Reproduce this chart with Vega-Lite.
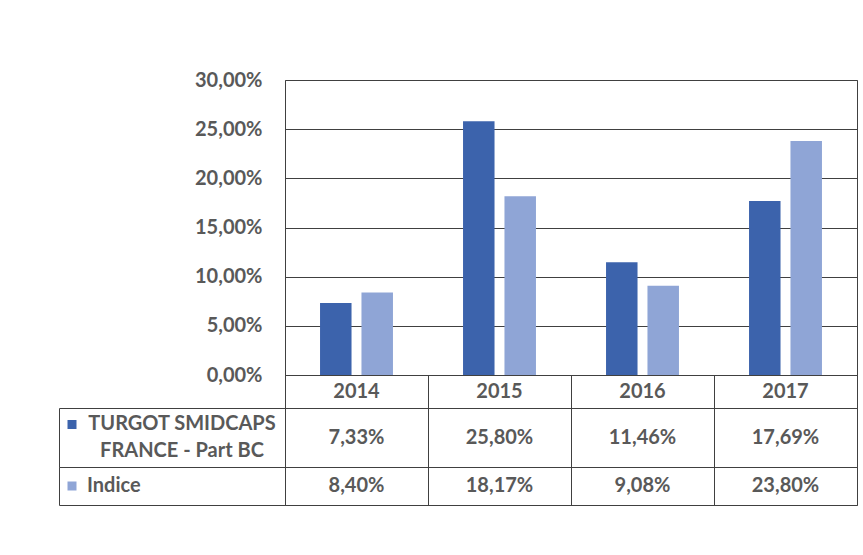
{
  "$schema": "https://vega.github.io/schema/vega-lite/v6.json",
  "background": "white",
  "padding": {"left": 58, "top": 69, "right": 4, "bottom": 4},
  "bounds": "flush",
  "align": "each",
  "spacing": 0,
  "columns": 2,
  "datasets": {
    "perf": [
      {"year": "2014", "series": "TURGOT SMIDCAPS FRANCE - Part BC", "value": 0.0733},
      {"year": "2015", "series": "TURGOT SMIDCAPS FRANCE - Part BC", "value": 0.2580},
      {"year": "2016", "series": "TURGOT SMIDCAPS FRANCE - Part BC", "value": 0.1146},
      {"year": "2017", "series": "TURGOT SMIDCAPS FRANCE - Part BC", "value": 0.1769},
      {"year": "2014", "series": "Indice", "value": 0.0840},
      {"year": "2015", "series": "Indice", "value": 0.1817},
      {"year": "2016", "series": "Indice", "value": 0.0908},
      {"year": "2017", "series": "Indice", "value": 0.2380}
    ]
  },
  "concat": [
    {
      "width": 226, "height": 295,
      "data": {"values": []},
      "mark": "text",
      "view": {"stroke": null}
    },
    {
      "width": 572, "height": 295,
      "data": {"name": "perf"},
      "mark": {"type": "bar"},
      "encoding": {
        "x": {"field": "year", "type": "nominal", "axis": null, "scale": {"paddingInner": 0.49, "paddingOuter": 0.245}},
        "xOffset": {"field": "series", "type": "nominal", "sort": ["TURGOT SMIDCAPS FRANCE - Part BC", "Indice"], "scale": {"paddingInner": 0.24, "paddingOuter": 0}},
        "y": {"field": "value", "type": "quantitative", "scale": {"domain": [0, 0.3], "nice": false},
          "axis": {"values": [0, 0.05, 0.1, 0.15, 0.2, 0.25, 0.3], "format": ".2%", "labelFontSize": 20, "labelFontWeight": "bold", "labelColor": "#595959", "labelPadding": 23, "ticks": false, "domain": false, "grid": true, "gridColor": "#404040", "gridOpacity": 1, "title": null}},
        "color": {"field": "series", "type": "nominal", "scale": {"domain": ["TURGOT SMIDCAPS FRANCE - Part BC", "Indice"], "range": ["#3C63AC", "#8FA5D6"]}, "legend": null}
      }
    },
    {
      "width": 226, "height": 33,
      "data": {"values": []},
      "mark": "text",
      "view": {"stroke": null}
    },
    {
      "width": 572, "height": 33,
      "data": {"name": "perf"},
      "transform": [{"filter": "datum.series == 'Indice'"}],
      "mark": {"type": "text", "fontSize": 20, "fontWeight": "bold", "color": "#595959"},
      "encoding": {
        "x": {"field": "year", "type": "nominal", "scale": {"paddingInner": 0, "paddingOuter": 0},
          "axis": {"grid": true, "gridColor": "#404040", "gridOpacity": 1, "tickBand": "extent", "ticks": false, "labels": false, "domain": false, "title": null}},
        "text": {"field": "year"}
      }
    },
    {
      "width": 226, "height": 59,
      "data": {"values": [{}]},
      "view": {"stroke": "#404040", "strokeWidth": 1},
      "layer": [
        {"mark": {"type": "text", "text": ["TURGOT SMIDCAPS", "FRANCE - Part BC"], "lineHeight": 27, "dx": 10, "dy": -13.5, "fontSize": 20, "fontWeight": "bold", "color": "#595959"}},
        {"mark": {"type": "point", "shape": "square", "filled": true, "size": 81, "opacity": 1, "color": "#3C63AC", "xOffset": -100, "yOffset": -13}}
      ]
    },
    {
      "width": 572, "height": 59,
      "data": {"name": "perf"},
      "transform": [{"filter": "datum.series != 'Indice'"}],
      "mark": {"type": "text", "fontSize": 20, "fontWeight": "bold", "color": "#595959"},
      "encoding": {
        "x": {"field": "year", "type": "nominal", "scale": {"paddingInner": 0, "paddingOuter": 0},
          "axis": {"grid": true, "gridColor": "#404040", "gridOpacity": 1, "tickBand": "extent", "ticks": false, "labels": false, "domain": false, "title": null}},
        "text": {"field": "value", "type": "quantitative", "format": ".2%"}
      }
    },
    {
      "width": 226, "height": 38,
      "data": {"values": [{}]},
      "view": {"stroke": "#404040", "strokeWidth": 1},
      "layer": [
        {"mark": {"type": "text", "text": "Indice", "align": "left", "dx": -85, "fontSize": 20, "fontWeight": "bold", "color": "#595959"}},
        {"mark": {"type": "point", "shape": "square", "filled": true, "size": 81, "opacity": 1, "color": "#8FA5D6", "xOffset": -100}}
      ]
    },
    {
      "width": 572, "height": 38,
      "data": {"name": "perf"},
      "transform": [{"filter": "datum.series == 'Indice'"}],
      "mark": {"type": "text", "fontSize": 20, "fontWeight": "bold", "color": "#595959"},
      "encoding": {
        "x": {"field": "year", "type": "nominal", "scale": {"paddingInner": 0, "paddingOuter": 0},
          "axis": {"grid": true, "gridColor": "#404040", "gridOpacity": 1, "tickBand": "extent", "ticks": false, "labels": false, "domain": false, "title": null}},
        "text": {"field": "value", "type": "quantitative", "format": ".2%"}
      }
    }
  ],
  "config": {
    "font": "Lato",
    "view": {"stroke": "#404040", "strokeWidth": 1},
    "locale": {"number": {"decimal": ",", "thousands": "\u00a0", "grouping": [3], "currency": ["", "\u00a0€"], "percent": "%"}}
  }
}
